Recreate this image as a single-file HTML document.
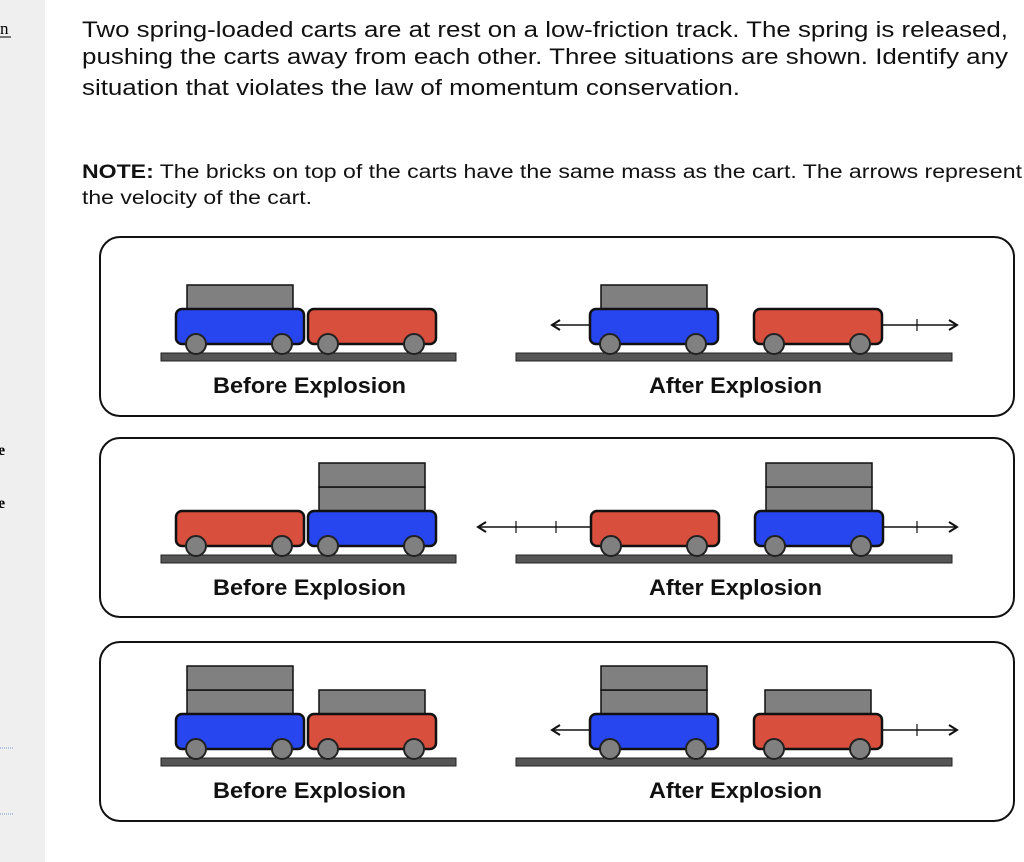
<!DOCTYPE html>
<html><head><meta charset="utf-8"><style>
html,body{margin:0;padding:0;background:#fff;}
body{width:1024px;height:862px;overflow:hidden;position:relative;font-family:"Liberation Sans",Arial,sans-serif;}
</style></head><body>
<svg width="1024" height="862" xmlns="http://www.w3.org/2000/svg" style="position:absolute;left:0;top:0">
<rect x="0" y="0" width="45" height="862" fill="#efefef"/>
<text x="0" y="34" font-family="Liberation Serif, serif" font-size="17" fill="#000">n</text>
<line x1="0" y1="37" x2="11" y2="37" stroke="#000" stroke-width="1"/>
<text x="-2" y="455" font-family="Liberation Serif, serif" font-size="16" font-weight="bold">e</text>
<text x="-2" y="508" font-family="Liberation Serif, serif" font-size="16" font-weight="bold">e</text>
<line x1="0" y1="748" x2="14" y2="748" stroke="#7a9ad0" stroke-width="1" stroke-dasharray="1,1"/>
<line x1="0" y1="814" x2="14" y2="814" stroke="#7a9ad0" stroke-width="1" stroke-dasharray="1,1"/>
<g font-family="Liberation Sans, Arial, sans-serif" font-size="22" fill="#111">
<text x="82" y="37" textLength="926" lengthAdjust="spacingAndGlyphs">Two spring-loaded carts are at rest on a low-friction track. The spring is released,</text>
<text x="82" y="64" textLength="926" lengthAdjust="spacingAndGlyphs">pushing the carts away from each other. Three situations are shown. Identify any</text>
<text x="82" y="95" textLength="658" lengthAdjust="spacingAndGlyphs">situation that violates the law of momentum conservation.</text>
</g>
<g font-family="Liberation Sans, Arial, sans-serif" font-size="19" fill="#111">
<text x="82" y="178" textLength="940" lengthAdjust="spacingAndGlyphs"><tspan font-weight="bold">NOTE:</tspan> The bricks on top of the carts have the same mass as the cart. The arrows represent</text>
<text x="82" y="204" textLength="230" lengthAdjust="spacingAndGlyphs">the velocity of the cart.</text>
</g>
<g id="all"></g>
</svg>
<script>
var g=document.getElementById('all'),h='';
function panel(y){h+='<rect x="100" y="'+y+'" width="914" height="179" rx="20" fill="#fff" stroke="#111" stroke-width="2"/>';}
function track(x1,x2,o){h+='<rect x="'+x1+'" y="'+(353+o)+'" width="'+(x2-x1)+'" height="8" fill="#555" stroke="#222" stroke-width="1"/>';}
function cart(x,o,c,bricks){
 for(var i=0;i<bricks;i++){var by=309+o-24*(i+1);h+='<rect x="'+(x+12)+'" y="'+by+'" width="106" height="24" fill="#808080" stroke="#111" stroke-width="1.5"/>';}
 h+='<rect x="'+(x+1)+'" y="'+(309+o)+'" width="128" height="35" rx="6" fill="'+(c=='b'?'#2746f0':'#d94f3e')+'" stroke="#111" stroke-width="2.5"/>';
 [x+21,x+107].forEach(function(cx){h+='<circle cx="'+cx+'" cy="'+(344+o)+'" r="10" fill="#808080" stroke="#222" stroke-width="2"/>';});
}
function arrow(x1,x2,o,ticks){var y=325+o;h+='<line x1="'+x1+'" y1="'+y+'" x2="'+x2+'" y2="'+y+'" stroke="#111" stroke-width="1.5"/>';
 var d=x2>x1?1:-1;h+='<polyline points="'+(x2-8*d)+','+(y-5)+' '+x2+','+y+' '+(x2-8*d)+','+(y+5)+'" fill="none" stroke="#111" stroke-width="2"/>';
 ticks.forEach(function(t){h+='<line x1="'+t+'" y1="'+(y-6)+'" x2="'+t+'" y2="'+(y+6)+'" stroke="#111" stroke-width="1.2"/>';});}
function label(x,w,o,t){h+='<text x="'+x+'" y="'+(393+o)+'" textLength="'+w+'" lengthAdjust="spacingAndGlyphs" font-family="Liberation Sans, Arial, sans-serif" font-weight="bold" font-size="22" fill="#111">'+t+'</text>';}
panel(237);panel(438);panel(642);
var o=0;track(161,456,o);cart(175,o,'b',1);cart(307,o,'r',0);label(213,193,o,'Before Explosion');
track(516,952,o);arrow(590,552,o,[]);arrow(883,957,o,[917]);cart(589,o,'b',1);cart(753,o,'r',0);label(649,173,o,'After Explosion');
o=202;track(161,456,o);cart(175,o,'r',0);cart(307,o,'b',2);label(213,193,o,'Before Explosion');
track(516,952,o);arrow(591,478,o,[516,556]);arrow(884,957,o,[917]);cart(590,o,'r',0);cart(754,o,'b',2);label(649,173,o,'After Explosion');
o=405;track(161,456,o);cart(175,o,'b',2);cart(307,o,'r',1);label(213,193,o,'Before Explosion');
track(516,952,o);arrow(590,552,o,[]);arrow(883,957,o,[917]);cart(589,o,'b',2);cart(753,o,'r',1);label(649,173,o,'After Explosion');
g.innerHTML=h;
</script>
</body></html>
